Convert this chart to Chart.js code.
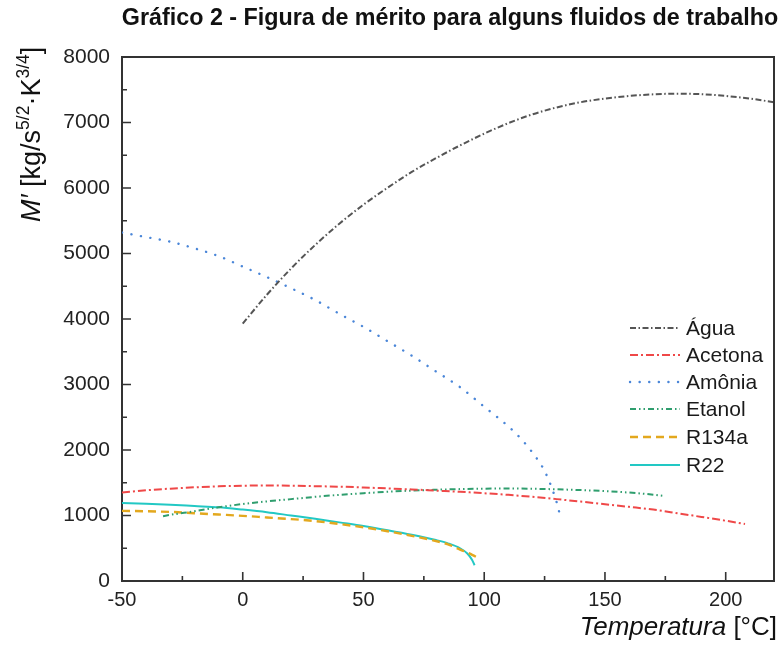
<!DOCTYPE html>
<html>
<head>
<meta charset="utf-8">
<script src="https://cdn.jsdelivr.net/npm/chart.js@4.4.1/dist/chart.umd.min.js"></script>
<style>
  html, body { margin: 0; padding: 0; background: #ffffff; }
  #wrap { width: 781px; height: 652px; position: relative; }
</style>
</head>
<body>
<div id="wrap"><canvas id="chart"></canvas></div>
<script>
const FONT = '"Liberation Sans", Arial, Helvetica, sans-serif';

const chartTitle = 'Gráfico 2 - Figura de mérito para alguns fluidos de trabalho';
const xAxisName = 'Temperatura';
const xAxisUnit = ' [°C]';

// Axis ticks
const xTicksMajor = [-50, 0, 50, 100, 150, 200];
const xTicksMinor = [-25, 25, 75, 125, 175];
const yTicksMajor = [0, 1000, 2000, 3000, 4000, 5000, 6000, 7000, 8000];
const yTicksMinor = [500, 1500, 2500, 3500, 4500, 5500, 6500, 7500];

const seriesNames = ['Água', 'Acetona', 'Amônia', 'Etanol', 'R134a', 'R22'];

// Temperature (°C) and figure of merit M' for each working fluid
const aguaT = [0, 10, 20, 30, 40, 50, 60, 70, 80, 90, 100, 110, 120, 130, 140, 150, 160, 170, 180, 190, 200, 210, 220];
const aguaM = [3930, 4370, 4770, 5130, 5455, 5745, 6005, 6245, 6455, 6650, 6830, 6990, 7125, 7230, 7310, 7365, 7405, 7430, 7440, 7432, 7405, 7365, 7310];

const acetonaT = [-50, -40, -30, -20, -10, 0, 10, 20, 30, 40, 50, 60, 70, 80, 90, 100, 110, 120, 130, 140, 150, 160, 170, 180, 190, 200, 208];
const acetonaM = [1350, 1385, 1410, 1430, 1445, 1455, 1458, 1455, 1448, 1440, 1428, 1413, 1398, 1380, 1362, 1340, 1315, 1285, 1250, 1212, 1172, 1132, 1090, 1035, 978, 920, 870];

const amoniaT = [-50, -40, -30, -20, -10, 0, 10, 20, 30, 40, 50, 60, 70, 80, 90, 100, 110, 115, 120, 125, 128, 130, 131];
const amoniaM = [5320, 5250, 5180, 5080, 4960, 4800, 4640, 4470, 4290, 4080, 3880, 3660, 3440, 3200, 2960, 2660, 2360, 2180, 1960, 1680, 1420, 1200, 1060];

const etanolT = [-33, -30, -20, -10, 0, 10, 20, 30, 40, 50, 60, 70, 80, 90, 100, 110, 120, 130, 140, 150, 160, 170, 174];
const etanolM = [990, 1010, 1065, 1125, 1175, 1215, 1250, 1285, 1315, 1340, 1362, 1380, 1393, 1403, 1410, 1412, 1408, 1400, 1388, 1372, 1350, 1318, 1300];

const r134aT = [-50, -40, -30, -20, -10, 0, 10, 20, 30, 40, 50, 60, 70, 80, 85, 90, 95, 98];
const r134aM = [1070, 1065, 1055, 1035, 1015, 995, 970, 945, 915, 870, 820, 760, 690, 610, 560, 480, 400, 340];

const r22T = [-50, -40, -30, -20, -10, 0, 10, 20, 30, 40, 50, 60, 70, 80, 85, 90, 93, 95, 96];
const r22M = [1190, 1180, 1165, 1145, 1125, 1090, 1050, 1000, 950, 895, 840, 775, 705, 625, 575, 500, 420, 320, 240];

function pairs(ts, ms) { return ts.map((t, i) => ({ x: t, y: ms[i] })); }

const styles = [
  { color: '#555555', dash: [6, 2.5, 1.5, 2.5], width: 2, cap: 'butt' },
  { color: '#ef4848', dash: [8, 3, 2, 3], width: 2, cap: 'butt' },
  { color: '#4a86d8', dash: [0.1, 9.5], width: 2.4, cap: 'round' },
  { color: '#2f9e6e', dash: [6, 3, 1.5, 3, 1.5, 3], width: 2, cap: 'butt' },
  { color: '#e3a81e', dash: [8, 5], width: 2.4, cap: 'butt' },
  { color: '#22c8c4', dash: [], width: 2, cap: 'butt' }
];

const seriesData = [
  pairs(aguaT, aguaM),
  pairs(acetonaT, acetonaM),
  pairs(amoniaT, amoniaM),
  pairs(etanolT, etanolM),
  pairs(r134aT, r134aM),
  pairs(r22T, r22M)
];

const datasets = seriesNames.map((name, i) => ({
  label: name,
  data: seriesData[i],
  borderColor: styles[i].color,
  backgroundColor: styles[i].color,
  borderWidth: styles[i].width,
  borderDash: styles[i].dash,
  borderCapStyle: styles[i].cap,
  pointRadius: 0,
  pointHoverRadius: 0,
  fill: false,
  cubicInterpolationMode: 'monotone'
}));

// Frame, inward tick marks, legend and axis titles
const decorations = {
  id: 'decorations',
  afterDraw(chart) {
    const ctx = chart.ctx;
    const a = chart.chartArea;
    const xs = chart.scales.x, ys = chart.scales.y;
    ctx.save();

    // top and right sides of the frame
    ctx.strokeStyle = '#333333';
    ctx.lineWidth = 2;
    ctx.beginPath();
    ctx.moveTo(a.left, a.top);
    ctx.lineTo(a.right, a.top);
    ctx.lineTo(a.right, a.bottom);
    ctx.stroke();

    // inward ticks
    ctx.lineWidth = 1.6;
    ctx.beginPath();
    xTicksMajor.forEach(v => { const p = xs.getPixelForValue(v); ctx.moveTo(p, a.bottom); ctx.lineTo(p, a.bottom - 9); });
    xTicksMinor.forEach(v => { const p = xs.getPixelForValue(v); ctx.moveTo(p, a.bottom); ctx.lineTo(p, a.bottom - 5); });
    yTicksMajor.forEach(v => { const p = ys.getPixelForValue(v); ctx.moveTo(a.left, p); ctx.lineTo(a.left + 9, p); });
    yTicksMinor.forEach(v => { const p = ys.getPixelForValue(v); ctx.moveTo(a.left, p); ctx.lineTo(a.left + 5, p); });
    ctx.stroke();

    // legend
    const rowY = [328, 355, 382, 409, 437, 465];
    seriesNames.forEach((name, i) => {
      const s = styles[i];
      ctx.save();
      ctx.strokeStyle = s.color;
      ctx.lineWidth = s.width;
      ctx.lineCap = s.cap;
      ctx.setLineDash(s.dash);
      ctx.beginPath();
      ctx.moveTo(630, rowY[i]);
      ctx.lineTo(680, rowY[i]);
      ctx.stroke();
      ctx.restore();
      ctx.fillStyle = '#1a1a1a';
      ctx.font = '21px ' + FONT;
      ctx.textAlign = 'left';
      ctx.textBaseline = 'middle';
      ctx.fillText(name, 686, rowY[i] + 1);
    });

    // chart title
    ctx.fillStyle = '#111111';
    ctx.font = 'bold 23.3px ' + FONT;
    ctx.textAlign = 'center';
    ctx.textBaseline = 'middle';
    ctx.fillText(chartTitle, 450, 19);

    // x axis title: italic name + upright unit, right aligned
    ctx.textBaseline = 'middle';
    ctx.textAlign = 'left';
    ctx.font = 'italic 26px ' + FONT;
    const wName = ctx.measureText(xAxisName).width;
    ctx.font = '26px ' + FONT;
    const wUnit = ctx.measureText(xAxisUnit).width;
    let xStart = 777 - wName - wUnit;
    ctx.font = 'italic 26px ' + FONT;
    ctx.fillText(xAxisName, xStart, 628);
    ctx.font = '26px ' + FONT;
    ctx.fillText(xAxisUnit, xStart + wName, 628);

    // y axis title, rotated, with superscripts
    const parts = [
      { t: 'M′', f: 'italic 27px ' + FONT, dy: 0 },
      { t: ' [kg/s', f: '27px ' + FONT, dy: 0 },
      { t: '5/2', f: '17.5px ' + FONT, dy: -11 },
      { t: '·K', f: '27px ' + FONT, dy: 0 },
      { t: '3/4', f: '17.5px ' + FONT, dy: -11 },
      { t: ']', f: '27px ' + FONT, dy: 0 }
    ];
    ctx.translate(40, 222);
    ctx.rotate(-Math.PI / 2);
    ctx.textBaseline = 'alphabetic';
    ctx.textAlign = 'left';
    let cx = 0;
    parts.forEach(p => {
      ctx.font = p.f;
      ctx.fillText(p.t, cx, p.dy);
      cx += ctx.measureText(p.t).width;
    });
    ctx.restore();
  }
};

new Chart(document.getElementById('chart'), {
  type: 'line',
  data: { datasets },
  options: {
    responsive: true,
    maintainAspectRatio: false,
    animation: false,
    devicePixelRatio: 1,
    layout: { padding: { left: 60, top: 57, right: 7, bottom: 31 } },
    plugins: {
      legend: { display: false },
      title: { display: false },
      tooltip: { enabled: false }
    },
    scales: {
      x: {
        type: 'linear',
        min: -50,
        max: 220,
        afterBuildTicks: s => { s.ticks = xTicksMajor.map(v => ({ value: v })); },
        afterFit: s => { s.height = 40; },
        grid: { display: false, drawTicks: false },
        border: { display: true, color: '#333333', width: 2 },
        ticks: { padding: 7, color: '#222222', font: { family: FONT, size: 20 }, maxRotation: 0, autoSkip: false }
      },
      y: {
        type: 'linear',
        min: 0,
        max: 8000,
        afterBuildTicks: s => { s.ticks = yTicksMajor.map(v => ({ value: v })); },
        afterFit: s => { s.width = 62; },
        grid: { display: false, drawTicks: false },
        border: { display: true, color: '#333333', width: 2 },
        ticks: { padding: 12, color: '#222222', font: { family: FONT, size: 21 }, autoSkip: false, callback: v => String(v) }
      }
    }
  },
  plugins: [decorations]
});
</script>
</body>
</html>
